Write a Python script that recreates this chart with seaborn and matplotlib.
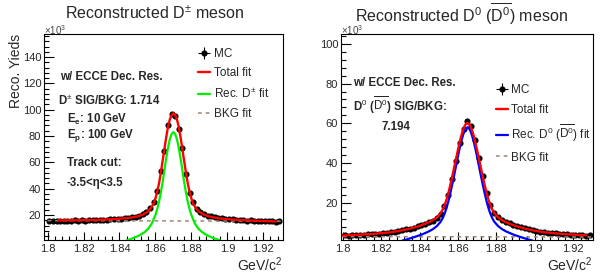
import numpy as np
import pandas as pd
import seaborn as sns
import matplotlib.pyplot as plt
from matplotlib.ticker import MultipleLocator, FuncFormatter

# MC histogram bin centres (GeV/c^2), same binning for both panels
mass_bins = np.round(1.801 + 0.002 * np.arange(65), 3)

# left panel: D+- yields (x10^3)
dpm_mc = [15.5, 15.3, 15.6, 15.4, 15.8, 15.5, 15.6, 15.9, 15.7, 15.9,
          15.8, 16.2, 16.0, 16.1, 16.4, 16.3, 16.5, 16.9, 16.8, 17.0,
          17.3, 17.5, 17.9, 18.2, 18.8, 19.4, 20.9, 22.4, 25.5, 30.0,
          38.5, 53.5, 68.5, 88.0, 96.5, 95.0, 85.5, 71.0, 51.0, 37.0,
          29.5, 24.8, 22.3, 20.6, 19.5, 18.9, 18.2, 17.7, 17.4, 17.0,
          16.9, 16.6, 16.4, 16.2, 16.1, 15.8, 15.9, 15.6, 15.5, 15.3,
          15.4, 15.2, 15.3, 15.0, 15.2]

dpm_total_x = [1.806, 1.815, 1.825, 1.835, 1.845, 1.850, 1.853, 1.855, 1.856, 1.857,
               1.858, 1.859, 1.860, 1.861, 1.862, 1.863, 1.864, 1.865, 1.866, 1.867,
               1.868, 1.869, 1.870, 1.871, 1.872, 1.873, 1.874, 1.875, 1.876, 1.877,
               1.878, 1.879, 1.880, 1.881, 1.882, 1.883, 1.884, 1.885, 1.887, 1.890,
               1.895, 1.900, 1.910, 1.920, 1.927]
dpm_total_y = [15.9, 16.0, 16.2, 16.7, 17.7, 18.9, 20.3, 21.8, 22.9, 24.3,
               26.2, 28.8, 32.5, 37.5, 44.0, 52.0, 61.0, 70.0, 79.0, 87.0,
               92.5, 96.0, 97.3, 96.0, 92.5, 87.0, 79.0, 70.0, 61.0, 52.0,
               44.0, 37.5, 32.5, 28.8, 26.2, 24.3, 22.9, 21.8, 20.3, 18.8,
               17.5, 16.8, 16.0, 15.4, 15.1]

dpm_sig_x = [1.844, 1.846, 1.848, 1.850, 1.852, 1.854, 1.856, 1.858, 1.860, 1.861,
             1.862, 1.863, 1.864, 1.865, 1.866, 1.867, 1.868, 1.869, 1.870, 1.871,
             1.872, 1.873, 1.874, 1.875, 1.876, 1.877, 1.878, 1.879, 1.880, 1.882,
             1.884, 1.886, 1.888, 1.890, 1.892, 1.894, 1.896]
dpm_sig_y = [0.7, 1.6, 2.6, 3.8, 5.2, 7.0, 9.5, 13.5, 20.0, 24.5,
             30.0, 37.0, 45.0, 54.0, 63.0, 71.0, 77.5, 81.5, 83.0, 81.5,
             77.5, 71.0, 63.0, 54.0, 45.0, 37.0, 30.0, 24.5, 20.0, 13.5,
             9.5, 7.0, 5.2, 3.8, 2.6, 1.6, 0.7]

dpm_bkg_x = [1.800, 1.930]
dpm_bkg_y = [15.7, 15.3]

# right panel: D0 (D0bar) yields (x10^3)
d0_mc = [3.6, 3.3, 3.7, 3.5, 3.8, 3.6, 4.0, 4.1, 4.3, 4.4,
         4.6, 4.8, 5.0, 5.3, 5.8, 6.0, 6.5, 6.8, 7.4, 8.1,
         8.6, 9.5, 10.4, 11.0, 12.4, 14.5, 18.3, 24.0, 32.0, 41.0,
         50.0, 57.0, 61.0, 58.5, 51.5, 42.5, 33.5, 25.0, 18.8, 15.0,
         12.9, 11.4, 10.3, 9.6, 8.7, 8.1, 7.5, 7.0, 6.5, 6.1,
         5.8, 5.4, 5.2, 4.9, 4.8, 4.5, 4.3, 4.2, 4.0, 3.9,
         3.7, 3.8, 3.5, 3.4, 3.6]

d0_total_x = [1.800, 1.815, 1.825, 1.830, 1.835, 1.840, 1.845, 1.847, 1.849, 1.851,
              1.852, 1.853, 1.854, 1.855, 1.856, 1.857, 1.858, 1.859, 1.860, 1.861,
              1.862, 1.863, 1.864, 1.865, 1.866, 1.867, 1.868, 1.869, 1.870, 1.871,
              1.872, 1.873, 1.874, 1.875, 1.876, 1.877, 1.878, 1.879, 1.881, 1.883,
              1.885, 1.890, 1.895, 1.900, 1.905, 1.915, 1.927]
d0_total_y = [3.5, 4.2, 5.1, 5.9, 6.9, 8.3, 10.2, 11.2, 12.6, 14.7,
              16.4, 18.6, 21.4, 24.8, 28.7, 33.0, 37.5, 42.0, 46.5, 50.8,
              54.5, 57.5, 59.5, 60.2, 59.5, 57.5, 54.5, 50.8, 46.5, 42.0,
              37.5, 33.0, 28.7, 24.8, 21.4, 18.6, 16.4, 14.7, 12.6, 11.2,
              10.2, 8.3, 6.9, 5.9, 5.1, 4.2, 3.6]

d0_sig_x = [1.831, 1.833, 1.837, 1.841, 1.845, 1.847, 1.849, 1.851, 1.852, 1.853,
            1.854, 1.855, 1.856, 1.857, 1.858, 1.859, 1.860, 1.861, 1.862, 1.863,
            1.864, 1.865, 1.866, 1.867, 1.868, 1.869, 1.870, 1.871, 1.872, 1.873,
            1.874, 1.875, 1.876, 1.877, 1.878, 1.879, 1.881, 1.883, 1.885, 1.889,
            1.893, 1.897, 1.899]
d0_sig_y = [0.9, 1.4, 2.6, 3.9, 5.6, 6.7, 8.2, 10.4, 12.1, 14.3,
            17.1, 20.6, 24.6, 29.0, 33.6, 38.4, 43.2, 47.8, 51.8, 55.0,
            57.2, 58.0, 57.2, 55.0, 51.8, 47.8, 43.2, 38.4, 33.6, 29.0,
            24.6, 20.6, 17.1, 14.3, 12.1, 10.4, 8.2, 6.7, 5.6, 3.9,
            2.6, 1.4, 0.9]

d0_bkg_x = [1.800, 1.930]
d0_bkg_y = [2.9, 2.7]

sns.set_style("ticks")
plt.rcParams['font.family'] = ['Liberation Sans', 'DejaVu Sans']
plt.rcParams['mathtext.fontset'] = 'custom'
plt.rcParams['mathtext.rm'] = 'Liberation Sans'
plt.rcParams['mathtext.it'] = 'Liberation Sans:italic'
plt.rcParams['mathtext.bf'] = 'Liberation Sans:bold'

fig = plt.figure(figsize=(6.15, 2.75), dpi=100)
ax1 = fig.add_axes([44/615, 35/275, 239/615, 206/275])
ax2 = fig.add_axes([341/615, 35/275, 252/615, 206/275])

bkg_col = '#a08672'


def draw_panel(ax, mc, tot_x, tot_y, sig_x, sig_y, bkg_x, bkg_y, sig_col, sig_label):
    ax.errorbar(mass_bins, mc, xerr=0.001, yerr=0.2, fmt='o', color='black',
                ms=3.4, elinewidth=0.8, capsize=0, zorder=2, label='MC')
    sns.lineplot(x=bkg_x, y=bkg_y, ax=ax, color=bkg_col, lw=1.1,
                 dashes=False, label='BKG fit', zorder=3)
    ax.lines[-1].set_dashes([2.5, 2.5])
    sns.lineplot(x=sig_x, y=sig_y, ax=ax, color=sig_col, lw=1.6,
                 label=sig_label, zorder=4, sort=False)
    sns.lineplot(x=tot_x, y=tot_y, ax=ax, color='#ff0000', lw=1.7,
                 label='Total fit', zorder=5, sort=False)


def style_axis(ax, ylim, xlim):
    ax.set_xlim(*xlim)
    ax.set_ylim(*ylim)
    ax.xaxis.set_major_locator(MultipleLocator(0.02))
    ax.xaxis.set_minor_locator(MultipleLocator(0.004))
    ax.yaxis.set_major_locator(MultipleLocator(20))
    ax.yaxis.set_minor_locator(MultipleLocator(4))
    ax.xaxis.set_major_formatter(FuncFormatter(lambda v, p: f'{v:g}'))
    ax.yaxis.set_major_formatter(FuncFormatter(lambda v, p: f'{v:g}'))
    ax.tick_params(which='both', direction='in', top=False, right=False,
                   labelsize=8, width=0.8, color='black')
    ax.tick_params(axis='y', which='major', length=7, pad=2)
    ax.tick_params(axis='y', which='minor', length=3.5)
    ax.tick_params(axis='x', which='major', length=6, pad=3)
    ax.tick_params(axis='x', which='minor', length=3)
    for s in ax.spines.values():
        s.set_linewidth(0.8)
        s.set_color('black')
    ax.set_xlabel('GeV/c$^2$', loc='right', fontsize=10, labelpad=1)
    ax.text(0, 0.985, r'$\times10^{3}$', transform=ax.transAxes, fontsize=7,
            color='#444444', ha='left', va='bottom')


def ordered_legend(ax, order, anchor, spacing):
    h, l = ax.get_legend_handles_labels()
    lookup = dict(zip(l, h))
    ax.legend([lookup[k] for k in order], order, loc='upper left',
              bbox_to_anchor=anchor, frameon=False, fontsize=8.5,
              handlelength=1.0, handletextpad=0.3, borderpad=0,
              borderaxespad=0, labelspacing=spacing)


# left: D+-
draw_panel(ax1, dpm_mc, dpm_total_x, dpm_total_y, dpm_sig_x, dpm_sig_y,
           dpm_bkg_x, dpm_bkg_y, '#00ee00', r'Rec. D$^{\pm}$ fit')
style_axis(ax1, (1, 157.5), (1.798, 1.931))
ax1.set_ylabel('Reco. Yieds', loc='top', fontsize=10, labelpad=-0.5)
ordered_legend(ax1, ['MC', 'Total fit', r'Rec. D$^{\pm}$ fit', 'BKG fit'],
               (0.645, 0.932), 0.62)
txt = dict(transform=ax1.transAxes, fontsize=8.3, fontweight='bold',
           ha='left', va='center')
ax1.text(0.067, 0.791, 'w/ ECCE Dec. Res.', **txt)
ax1.text(0.059, 0.675, r'D$^{\pm}$ SIG/BKG: 1.714', **txt)
ax1.text(0.096, 0.587, r'E$_\mathbf{e}$: 10 GeV', **txt)
ax1.text(0.096, 0.505, r'E$_\mathbf{p}$: 100 GeV', **txt)
ax1.text(0.096, 0.374, 'Track cut:', **txt)
ax1.text(0.096, 0.277, '-3.5<\u03b7<3.5', **txt)

# right: D0 (D0bar)
d0_label = r'Rec. D$^0$ ($\overline{\mathrm{D}^0}$) fit'
draw_panel(ax2, d0_mc, d0_total_x, d0_total_y, d0_sig_x, d0_sig_y,
           d0_bkg_x, d0_bkg_y, '#0000ff', d0_label)
style_axis(ax2, (1.2, 105), (1.799, 1.9305))
ax2.set_ylabel('')
ordered_legend(ax2, ['MC', 'Total fit', d0_label, 'BKG fit'],
               (0.615, 0.755), 0.62)
txt2 = dict(transform=ax2.transAxes, fontsize=8.3, fontweight='bold',
            ha='left', va='center')
ax2.text(0.048, 0.762, 'w/ ECCE Dec. Res.', **txt2)
ax2.text(0.048, 0.655, r'D$^0$ ($\overline{\mathrm{D}^0}$) SIG/BKG:', **txt2)
ax2.text(0.159, 0.549, '7.194', **txt2)

fig.text(0.251, 0.95, r'Reconstructed D$^{\pm}$ meson', ha='center',
         va='center', fontsize=11.5)
fig.text(0.751, 0.95, r'Reconstructed D$^0$ ($\overline{\mathrm{D}^0}$) meson',
         ha='center', va='center', fontsize=11.5)

fig.savefig('out.png', dpi=100)
